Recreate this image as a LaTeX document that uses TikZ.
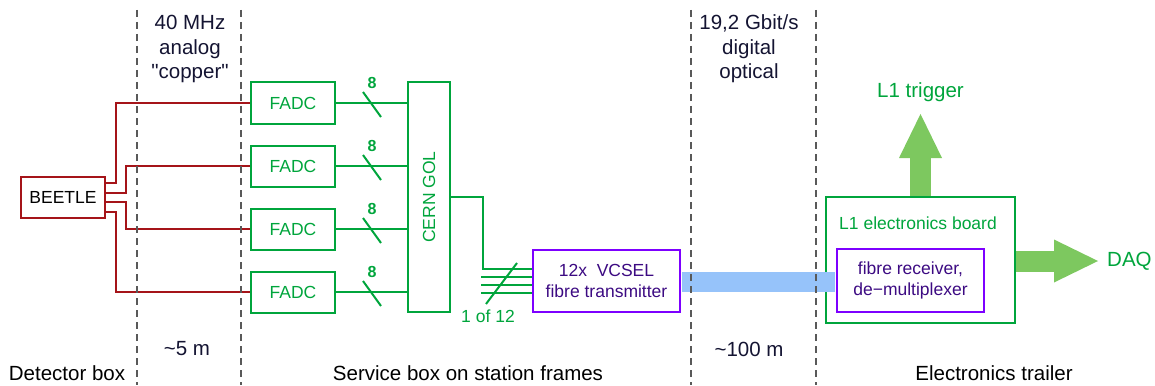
\documentclass[tikz,border=0pt]{standalone}
\usepackage{fontspec}
\setmainfont{Liberation Sans}
\usetikzlibrary{calc, positioning}
\usetikzlibrary{arrows.meta}

\definecolor{wire}{RGB}{165,20,25}
\definecolor{board}{RGB}{0,165,60}
\definecolor{optic}{RGB}{125,0,255}
\definecolor{optictext}{RGB}{60,10,130}
\definecolor{fibre}{RGB}{150,195,250}
\definecolor{flow}{RGB}{125,200,95}
\definecolor{note}{RGB}{20,20,50}

\begin{document}
\begin{tikzpicture}[x=1pt, y=-1pt,
  every node/.style={inner sep=0pt, font=\fontsize{17.5}{20.5}\selectfont},
  zone/.style={text=note, align=center, font=\fontsize{20.5}{24.5}\selectfont},
  redbox/.style={draw=wire, line width=2pt, minimum width=84pt, minimum height=41pt},
  greenbox/.style={draw=board, line width=2pt, text=board, minimum width=84pt, minimum height=41pt},
  violetbox/.style={draw=optic, line width=2pt, text=optictext, align=center, minimum width=147pt, minimum height=62pt},
  redwire/.style={draw=wire, line width=2pt},
  greenwire/.style={draw=board, line width=2pt},
  fatarrow/.style={draw=flow, line width=21pt, -{Triangle[length=44pt, width=43pt, line width=0pt]}}]
\useasboundingbox (0,0) rectangle (1155,385);

% zone texts
\node[zone] at (190,49) {40 MHz\\analog\\\textquotedbl copper\textquotedbl};
\node[zone] at (749,49) {19,2 Gbit/s\\digital\\optical};
\node[zone] at (187,349) {\textasciitilde5 m};
\node[zone] at (749,349) {\textasciitilde100 m};
\node[zone, text=black] at (67,373) {Detector box};
\node[zone, text=black] at (468,373) {Service box on station frames};
\node[zone, text=black] at (994,373) {Electronics trailer};

% detector box
\node[redbox] (B) at (63,197.5) {BEETLE};

% service box
\foreach \i/\y in {1/103, 2/166, 3/229, 4/292}
  \node[greenbox] (F\i) at (293,\y) {FADC};
\node[greenbox, minimum width=42pt, minimum height=230pt] (G) at (429,197) {};
\node[text=board, rotate=90] at (G) {CERN GOL};
\node[violetbox] (V) at (606.5,281) {12x\ \ VCSEL\\fibre transmitter};

\draw[redwire] (B.east |- 0,183) -- (116,183) |- (F1.west);
\draw[redwire] (B.east |- 0,193) -- (126,193) |- (F2.west);
\draw[redwire] (B.east |- 0,202) -- (126,202) |- (F3.west);
\draw[redwire] (B.east |- 0,212) -- (116,212) |- (F4.west);

\foreach \i in {1,...,4} {
  \draw[greenwire] (F\i.east) -- (F\i.east -| G.west);
  \draw[greenwire] ($(F\i.east -| 372,0)+(-9,-11)$) -- ++(18,25);
  \node[text=board, font=\bfseries\fontsize{16}{18}\selectfont] at ($(F\i.east -| 372,0)+(0,-20)$) {8};
}

\draw[greenwire] (G.east) -- ++(32,0) |- ($(V.west)+(0,-12)$);
\foreach \d in {-4,4,12}
  \draw[greenwire] ($(V.west)+(-51,\d)$) -- ($(V.west)+(0,\d)$);
\draw[greenwire] ($(V.west)+(-46,23)$) -- ($(V.west)+(-15,-18)$);
\node[text=board] at ($(V.west)+(-44,35)$) {1 of 12};

% electronics trailer
\node[greenbox, minimum width=189pt, minimum height=126pt] (L) at (920.5,260) {};
\node[text=board] at ($(L.north)+(-2.5,27)$) {L1 electronics board};
\node[violetbox, minimum height=63pt] (R) at (910.5,280.5) {fibre receiver,\\de−multiplexer};

\draw[fibre, line width=20pt, shorten <=1pt, shorten >=1pt] (V.east |- 0,282) -- (R.west |- 0,282);

\coordinate (T) at (920.5,114);
\coordinate (D) at (1098,261);
\draw[fatarrow] (L.north) -- (T);
\draw[fatarrow] (L.east |- D) -- (D);
\node[text=board, font=\fontsize{20.5}{24}\selectfont] at ($(T)+(0,-22)$) {L1 trigger};
\node[text=board, font=\fontsize{20.5}{24}\selectfont, anchor=west] at ($(D)+(9,0)$) {DAQ};

% dividers
\foreach \x in {137, 241, 691, 816}
  \draw[black!65, line width=1.6pt, dash pattern=on 7pt off 5pt] (\x,10) -- (\x,385);
\end{tikzpicture}
\end{document}
